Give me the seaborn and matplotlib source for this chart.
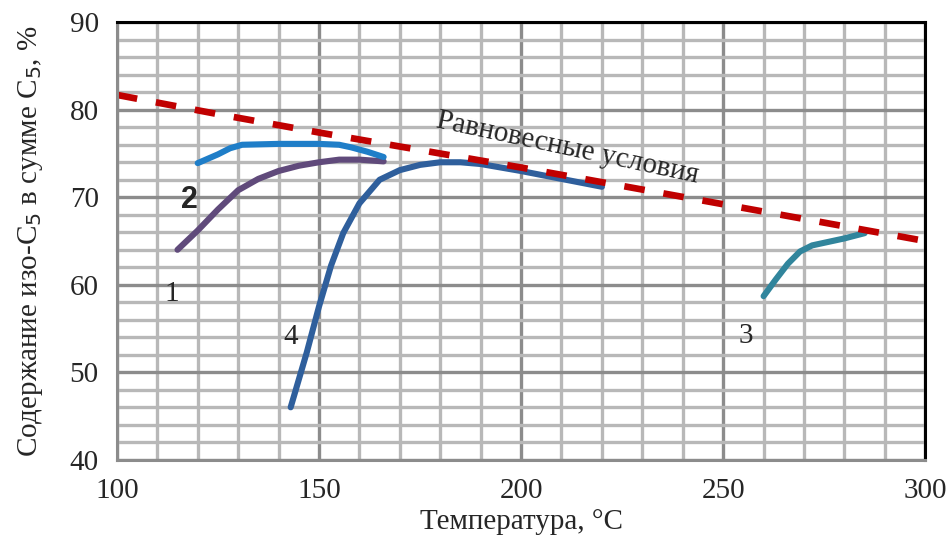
import matplotlib
matplotlib.use("Agg")
import matplotlib.pyplot as plt
import seaborn as sns
import pandas as pd
from matplotlib.ticker import MultipleLocator

# Data
eq_x = [100, 125, 150, 175, 200, 225, 250, 275, 300]
eq_y = [81.7, 79.5, 77.4, 75.4, 73.4, 71.3, 69.2, 67.1, 65.0]

c1_x = [115, 120, 125, 130, 135, 140, 145, 150, 155, 160, 166]
c1_y = [64.0, 66.2, 68.6, 70.8, 72.1, 73.0, 73.6, 74.0, 74.3, 74.3, 74.1]

c2_x = [120, 122.5, 125, 128, 131, 140, 150, 155, 158, 162, 166]
c2_y = [73.9, 74.4, 74.9, 75.6, 76.0, 76.1, 76.1, 76.0, 75.7, 75.2, 74.6]

c3_x = [260, 263, 266, 269, 272, 276, 280, 285]
c3_y = [58.7, 60.6, 62.4, 63.8, 64.5, 64.9, 65.3, 65.9]

c4_x = [143, 147, 150, 153, 156, 160, 165, 170, 175, 180, 185, 190, 200, 210, 220]
c4_y = [46.0, 52.3, 57.5, 62.2, 65.9, 69.3, 72.0, 73.1, 73.7, 74.0, 74.0, 73.8, 73.0, 72.1, 71.2]

x_ticks = [100, 150, 200, 250, 300]
y_ticks = [40, 50, 60, 70, 80, 90]

sns.set_style("white")
plt.rcParams['font.family'] = ['Liberation Serif', 'DejaVu Serif']

fig = plt.figure(figsize=(9.5, 5.56), dpi=100)
ax = fig.add_axes([0.123, 0.173, 0.851, 0.787])

# grid
ax.xaxis.set_minor_locator(MultipleLocator(10))
ax.yaxis.set_minor_locator(MultipleLocator(2))
ax.grid(which='minor', color='#b8b8b8', linewidth=2.4, zorder=0)
ax.grid(which='major', color='#8c8c8c', linewidth=2.4, zorder=0)
ax.set_axisbelow(True)

lw = 4.4
sns.lineplot(x=c1_x, y=c1_y, ax=ax, color='#604a7b', linewidth=lw, sort=False)
sns.lineplot(x=c2_x, y=c2_y, ax=ax, color='#1f7ec8', linewidth=lw, sort=False)
sns.lineplot(x=c3_x, y=c3_y, ax=ax, color='#31859c', linewidth=lw, sort=False)
sns.lineplot(x=c4_x, y=c4_y, ax=ax, color='#2f5f9c', linewidth=lw, sort=False)
sns.lineplot(x=eq_x, y=eq_y, ax=ax, color='#c00000', linewidth=4.8, sort=False)
eq_line = ax.lines[-1]
eq_line.set_dashes((3.1, 2.85))
for ln in ax.lines:
    ln.set_solid_capstyle('round')
    ln.set_solid_joinstyle('round')

ax.set_xlim(100, 300)
ax.set_ylim(40, 90)
ax.set_xticks(x_ticks)
ax.set_yticks(y_ticks)
ax.tick_params(axis='both', which='major', labelsize=21, length=7, width=2,
               color='#8c8c8c', direction='out', pad=6)
ax.tick_params(which='minor', length=0)

for s in ['top', 'right']:
    ax.spines[s].set_color('black')
    ax.spines[s].set_linewidth(2.2)
for s in ['left', 'bottom']:
    ax.spines[s].set_color('#8c8c8c')
    ax.spines[s].set_linewidth(2.2)

ax.set_xlabel('Температура, °C', fontsize=21, labelpad=4)
ax.set_ylabel('Содержание изо-С$_5$ в сумме С$_5$, %', fontsize=21, labelpad=18)

ax.text(118, 69.7, '2', fontsize=22, fontweight='bold', family='Liberation Sans',
        ha='center', va='center')
ax.text(113.5, 59.0, '1', fontsize=21, ha='center', va='center')
ax.text(143, 54.0, '4', fontsize=21, ha='center', va='center')
ax.text(255.5, 54.2, '3', fontsize=21, ha='center', va='center')
ax.text(211.5, 75.6, 'Равновесные условия', fontsize=21, rotation=-12,
        rotation_mode='anchor', ha='center', va='center')

fig.savefig('out.png', dpi=100)
